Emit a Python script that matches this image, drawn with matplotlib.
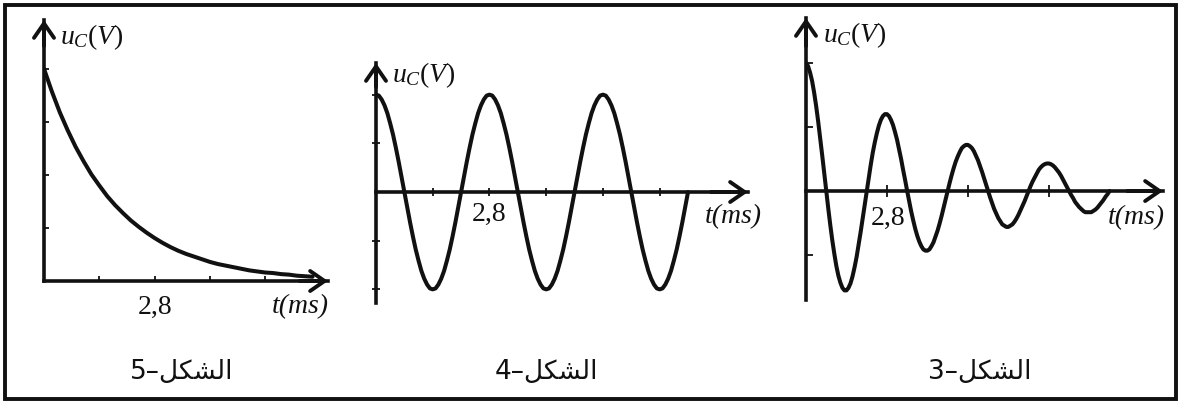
import matplotlib
matplotlib.use('Agg')
import matplotlib.pyplot as plt
import numpy as np
from matplotlib.patches import Rectangle

plt.rcParams['mathtext.fontset'] = 'custom'
plt.rcParams['mathtext.rm'] = 'Liberation Serif'
plt.rcParams['mathtext.it'] = 'Liberation Serif:italic'

W, H = 1180, 405

# figure 5 : discharge of the capacitor (no oscillation)
t5 = [0.0, 0.2, 0.4, 0.6, 0.8, 1.0, 1.2, 1.4, 1.6, 1.8, 2.0, 2.2, 2.4, 2.6, 2.8,
      3.0, 3.2, 3.4, 3.6, 3.8, 4.0, 4.2, 4.4, 4.6, 4.8, 5.0, 5.2, 5.4, 5.6, 5.8,
      6.0, 6.2, 6.4, 6.6, 6.8]
u5 = [4.00, 3.57, 3.18, 2.84, 2.53, 2.26, 2.01, 1.80, 1.60, 1.43, 1.28, 1.14, 1.02,
      0.91, 0.81, 0.72, 0.64, 0.57, 0.51, 0.46, 0.41, 0.36, 0.32, 0.29, 0.26, 0.23,
      0.20, 0.18, 0.16, 0.15, 0.13, 0.12, 0.10, 0.09, 0.08]

# figure 4 : free undamped oscillations, sampled every 0.07 ms from 0 to 7.7 ms
t4_end = 7.7
u4 = [2.00, 1.98, 1.90, 1.78, 1.62, 1.41, 1.18, 0.91, 0.62, 0.31,
      0.00, -0.31, -0.62, -0.91, -1.18, -1.41, -1.62, -1.78, -1.90, -1.98,
      -2.00, -1.98, -1.90, -1.78, -1.62, -1.41, -1.18, -0.91, -0.62, -0.31,
      0.00, 0.31, 0.62, 0.91, 1.18, 1.41, 1.62, 1.78, 1.90, 1.98,
      2.00, 1.98, 1.90, 1.78, 1.62, 1.41, 1.18, 0.91, 0.62, 0.31,
      0.00, -0.31, -0.62, -0.91, -1.18, -1.41, -1.62, -1.78, -1.90, -1.98,
      -2.00, -1.98, -1.90, -1.78, -1.62, -1.41, -1.18, -0.91, -0.62, -0.31,
      0.00, 0.31, 0.62, 0.91, 1.18, 1.41, 1.62, 1.78, 1.90, 1.98,
      2.00, 1.98, 1.90, 1.78, 1.62, 1.41, 1.18, 0.91, 0.62, 0.31,
      0.00, -0.31, -0.62, -0.91, -1.18, -1.41, -1.62, -1.78, -1.90, -1.98,
      -2.00, -1.98, -1.90, -1.78, -1.62, -1.41, -1.18, -0.91, -0.62, -0.31,
      0.00]

# figure 3 : damped (pseudo-periodic) oscillations, every 0.07 ms from 0 to 10.5 ms
t3_end = 10.5
u3 = [2.00, 1.95, 1.85, 1.72, 1.54, 1.33, 1.09, 0.83, 0.56, 0.28,
      0.00, -0.27, -0.53, -0.77, -0.98, -1.17, -1.32, -1.43, -1.51, -1.55,
      -1.55, -1.51, -1.44, -1.33, -1.19, -1.03, -0.84, -0.64, -0.43, -0.22,
      0.00, 0.21, 0.41, 0.60, 0.76, 0.90, 1.02, 1.11, 1.17, 1.20,
      1.20, 1.17, 1.11, 1.03, 0.92, 0.80, 0.65, 0.50, 0.33, 0.17,
      0.00, -0.16, -0.32, -0.46, -0.59, -0.70, -0.79, -0.86, -0.91, -0.93,
      -0.93, -0.91, -0.86, -0.80, -0.71, -0.62, -0.51, -0.39, -0.26, -0.13,
      0.00, 0.13, 0.25, 0.36, 0.46, 0.54, 0.61, 0.67, 0.70, 0.72,
      0.72, 0.70, 0.67, 0.62, 0.55, 0.48, 0.39, 0.30, 0.20, 0.10,
      0.00, -0.10, -0.19, -0.28, -0.35, -0.42, -0.47, -0.52, -0.54, -0.56,
      -0.56, -0.54, -0.52, -0.48, -0.43, -0.37, -0.30, -0.23, -0.16, -0.08,
      0.00, 0.08, 0.15, 0.21, 0.27, 0.33, 0.37, 0.40, 0.42, 0.43,
      0.43, 0.42, 0.40, 0.37, 0.33, 0.29, 0.24, 0.18, 0.12, 0.06,
      0.00, -0.06, -0.11, -0.17, -0.21, -0.25, -0.28, -0.31, -0.33, -0.33,
      -0.33, -0.33, -0.31, -0.29, -0.26, -0.22, -0.18, -0.14, -0.09, -0.05,
      0.00]

xticks5, yticks5 = [1.4, 2.8, 4.2, 5.6], [1, 2, 3, 4]
xticks4, yticks4 = [1.4, 2.8, 4.2, 5.6, 7.0], [-2, -1, 1, 2]
xticks3, yticks3 = [2.8, 5.6, 8.4], [-1, 1, 2]

t_mark = 2.8
t_mark_label = '2,8'
ylabel = r'$\mathit{u_C(V)}$'
xlabel = 't(ms)'

# "الشكل" written in presentation forms, left to right as it is displayed
word = '\ufede\ufedc\ufeb8\ufedf\ufe8d'
fig_numbers = ['5', '4', '3']

INK = '#111111'
serif = 'Liberation Serif'


def px_box(left, top, right, bottom):
    return [left / W, 1 - bottom / H, (right - left) / W, (bottom - top) / H]


def draw_axes(ax, xmax, ymin, ymax, xticks, yticks, xdir, xlen, ydir, ylen):
    ax.set_xlim(0, xmax)
    ax.set_ylim(ymin, ymax)
    ax.patch.set_visible(False)
    for s in ['top', 'right']:
        ax.spines[s].set_visible(False)
    ax.spines['left'].set_position(('data', 0))
    ax.spines['bottom'].set_position(('data', 0))
    for s in ['left', 'bottom']:
        ax.spines[s].set_linewidth(2.6)
        ax.spines[s].set_color(INK)
    ax.set_xticks(xticks)
    ax.set_yticks(yticks)
    ax.set_xticklabels([])
    ax.set_yticklabels([])
    ax.tick_params(axis='x', direction=xdir, length=xlen, width=1.3, color=INK)
    ax.tick_params(axis='y', direction=ydir, length=ylen, width=1.3, color=INK)

    head = dict(arrowstyle='->,head_length=0.65,head_width=0.45', lw=2.8,
                color=INK, mutation_scale=16, shrinkA=0, shrinkB=0)
    ax.annotate('', xy=(xmax, 0), xytext=(xmax * 0.9, 0), arrowprops=head,
                annotation_clip=False)
    ax.annotate('', xy=(0, ymax), xytext=(0, ymax - (ymax - ymin) * 0.1),
                arrowprops=head, annotation_clip=False)


def add_labels(ax, ylab_pos, xlab_pos, mark_pos):
    ax.text(ylab_pos[0], ylab_pos[1], ylabel, fontsize=20, color=INK,
            ha='left', va='center', clip_on=False)
    ax.text(xlab_pos[0], xlab_pos[1], xlabel, fontsize=20, color=INK,
            family=serif, style='italic', ha='center', va='center', clip_on=False)
    ax.text(mark_pos[0], mark_pos[1], t_mark_label, fontsize=20, color=INK,
            family=serif, ha='center', va='center', clip_on=False)


def draw_curve(ax, t, u):
    ax.plot(t, u, color=INK, lw=2.9, solid_capstyle='round',
            solid_joinstyle='round')


fig = plt.figure(figsize=(W / 100, H / 100), dpi=100)
fig.patch.set_facecolor('white')

# figure 5
ax5 = fig.add_axes(px_box(44, 20, 328, 281))
draw_axes(ax5, 7.19, 0, 4.92, xticks5, yticks5, 'in', 3.5, 'in', 3.5)
draw_curve(ax5, t5, u5)
add_labels(ax5, (0.4, 4.6), (6.5, -0.49), (t_mark, -0.49))

# figure 4
ax4 = fig.add_axes(px_box(376, 63, 748, 303))
draw_axes(ax4, 9.18, -2.28, 2.65, xticks4, yticks4, 'inout', 6, 'inout', 6)
draw_curve(ax4, np.linspace(0, t4_end, len(u4)), u4)
add_labels(ax4, (0.39, 2.40), (8.81, -0.51), (t_mark, -0.47))

# figure 3
ax3 = fig.add_axes(px_box(806, 18, 1163, 300))
draw_axes(ax3, 12.35, -1.70, 2.70, xticks3, yticks3, 'inout', 9, 'in', 5)
draw_curve(ax3, np.linspace(0, t3_end, len(u3)), u3)
add_labels(ax3, (0.59, 2.44), (11.42, -0.42), (t_mark + 0.05, -0.42))

# captions under each graph
for cx, num in zip([182, 546, 980], fig_numbers):
    fig.text(cx / W, 1 - 372 / H, num + '\u2013' + word, fontsize=19,
             family='DejaVu Sans', color=INK, ha='center', va='center')

# frame around the three graphs
fig.patches.append(Rectangle((5 / W, 1 - 399 / H), 1171 / W, 394 / H,
                             transform=fig.transFigure, fill=False,
                             lw=2.8, edgecolor=INK))

fig.savefig('out.png', dpi=100, facecolor='white')
